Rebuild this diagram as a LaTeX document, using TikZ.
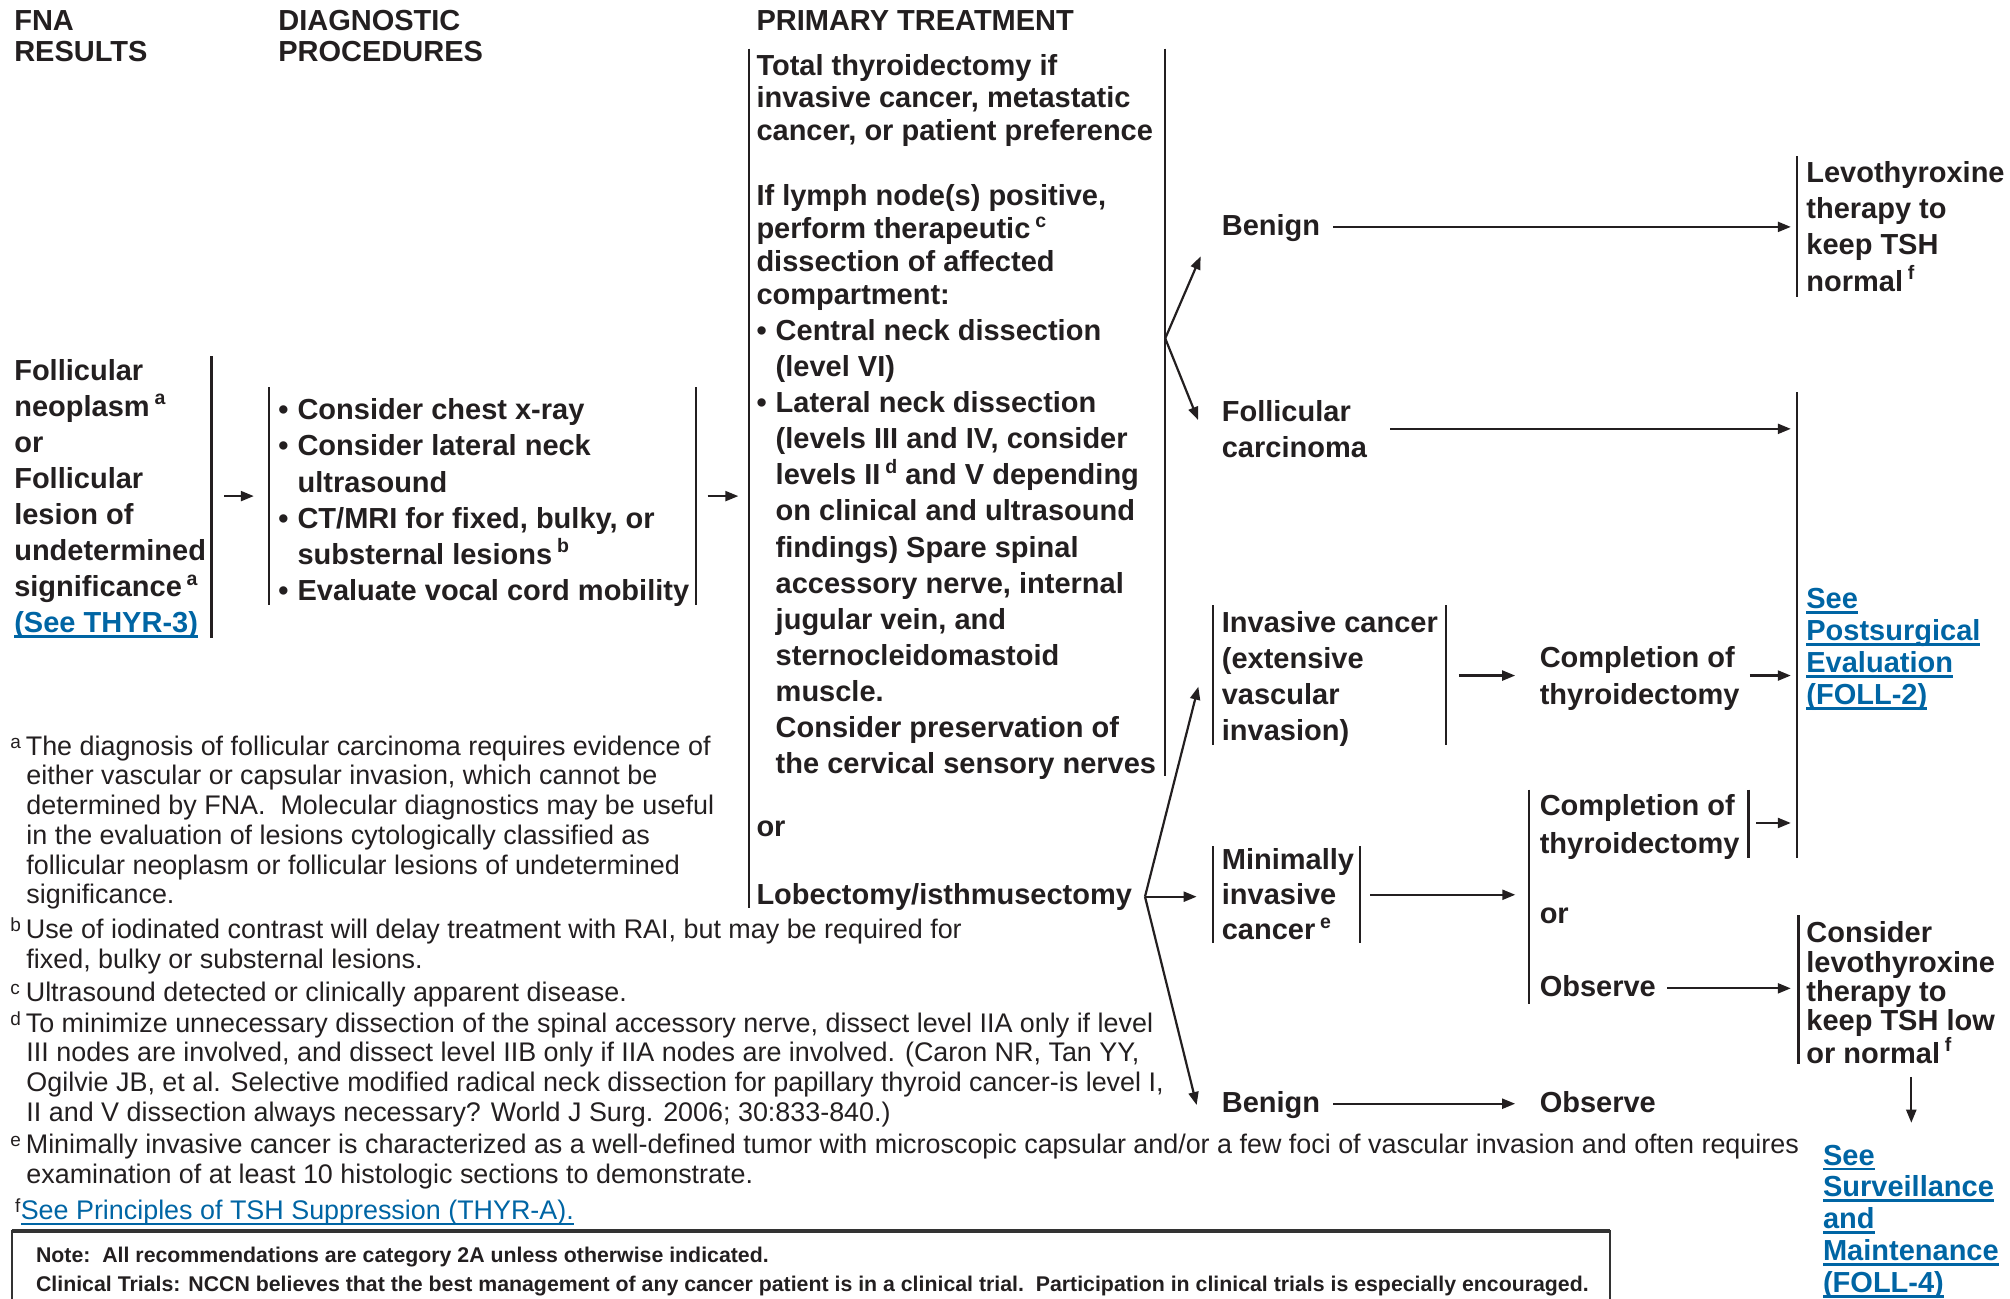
\documentclass[tikz,border=0pt]{standalone}
\usepackage{fontspec}
\setmainfont{Liberation Sans}
\usetikzlibrary{arrows.meta}
\definecolor{ink}{RGB}{35,31,32}
\definecolor{lnk}{RGB}{0,101,164}
\definecolor{boxline}{RGB}{51,51,51}

% superscript footnote marker inside bold body text
\newcommand\sups[1]{\,\raisebox{0.4em}{\fontsize{19.5}{19.5}\selectfont #1}}
% underlined link text (bold body size)
\newcommand\ulink[1]{\setbox0=\hbox{#1}\rlap{\rule[-5.3pt]{\wd0}{2.8pt}}\box0}
% underlined link text (footnote size)
\newcommand\ulinkthin[1]{\setbox0=\hbox{#1}\rlap{\rule[-5.3pt]{\wd0}{1.8pt}}\box0}
% bullets and hanging indent
\newcommand\bul{\makebox[19.2pt][l]{\textbullet}}
\newcommand\ind{\hspace*{19.2pt}}
% footnote markers
\newcommand\fmark[1]{\makebox[15.4pt][l]{\raisebox{7pt}{\fontsize{19}{19}\selectfont #1}}}
\newcommand\fcont{\hspace*{16pt}}

\tikzset{
  txt/.style={inner sep=0pt, anchor=north west, align=left, text=ink,
              font=\bfseries\fontsize{29}{36.1}\selectfont},
  bs/.style={font=\bfseries\fontsize{29}{#1}\selectfont},
  lbl/.style={inner sep=0pt, anchor=west, text=ink, text height=22pt, text depth=5.4pt,
              font=\bfseries\fontsize{29}{36.1}\selectfont},
  fn/.style={inner sep=0pt, anchor=north west, align=left, text=ink,
             font=\fontsize{26.9}{29.7}\selectfont},
  bar/.style={draw=ink, line width=2.2pt},
  arr/.style={draw=ink, line width=2.2pt, -{Triangle[length=13pt,width=10pt]}},
}

\begin{document}
\begin{tikzpicture}[x=1.2819pt, y=-1.2819pt]
\useasboundingbox (0,0) rectangle (1568,1013);

% ---------- column headings ----------
\node[txt, bs=30.8] (hfna)  at (11,8)  {FNA\\RESULTS};
\node[txt, bs=30.8] (hdiag) at (217,8) {DIAGNOSTIC\\PROCEDURES};
\node[txt]          (hprim) at (590,8) {PRIMARY TREATMENT};

% ---------- FNA results ----------
\node[txt] (fna) at (11,280) {Follicular\\neoplasm\sups{a}\\or\\Follicular\\lesion of\\undetermined\\significance\sups{a}\\{\color{lnk}\ulink{(See THYR-3)}}};
\coordinate (fnaT) at (165,278); \coordinate (fnaB) at (165,498);
\draw[bar] (fnaT) -- (fnaB);

% ---------- diagnostic procedures ----------
\node[txt] (diag) at (217,311) {\bul Consider chest x-ray\\\bul Consider lateral neck\\\ind ultrasound\\\bul CT/MRI for fixed, bulky, or\\\ind substernal lesions\sups{b}\\\bul Evaluate vocal cord mobility};
\coordinate (diagLT) at (210,302); \coordinate (diagLB) at (210,472);
\coordinate (diagRT) at (543,302); \coordinate (diagRB) at (543,472);
\draw[bar] (diagLT) -- (diagLB);
\draw[bar] (diagRT) -- (diagRB);

% ---------- primary treatment ----------
\node[txt, bs=32.8] (p1) at (590,42) {Total thyroidectomy if\\invasive cancer, metastatic\\cancer, or patient preference};
\node[txt, bs=32.8] (p2) at (590,144) {If lymph node(s) positive,\\perform therapeutic\sups{c}\\dissection of affected\\compartment:};
\node[txt] (p3) at (590,249) {\bul Central neck dissection\\\ind (level VI)\\\bul Lateral neck dissection\\\ind (levels III and IV, consider\\\ind levels II\sups{d} and V depending\\\ind on clinical and ultrasound\\\ind findings) Spare spinal\\\ind accessory nerve, internal\\\ind jugular vein, and\\\ind sternocleidomastoid\\\ind muscle.\\\ind Consider preservation of\\\ind the cervical sensory nerves};
\node[lbl] (por) at (590,646) {or};
\node[lbl] (lob) at (590,699) {Lobectomy/isthmusectomy};
\coordinate (primLT) at (584,38); \coordinate (primLB) at (584,708);
\coordinate (primRT) at (909,38); \coordinate (primRB) at (909,605);
\draw[bar] (primLT) -- (primLB);
\draw[bar] (primRT) -- (primRB);

% ---------- pathology outcomes ----------
\node[lbl] (ben1) at (953,177) {Benign};
\node[txt] (folc) at (953,312) {Follicular\\carcinoma};
\node[txt] (inv) at (953,477) {Invasive cancer\\(extensive\\vascular\\invasion)};
\node[txt, bs=34.9] (mini) at (953,662) {Minimally\\invasive\\cancer\sups{e}};
\node[lbl] (ben2) at (953,861) {Benign};
\coordinate (invLT) at (946,472); \coordinate (invLB) at (946,581);
\coordinate (invRT) at (1128,472); \coordinate (invRB) at (1128,581);
\coordinate (minLT) at (946,660); \coordinate (minLB) at (946,736);
\coordinate (minRT) at (1061,660); \coordinate (minRB) at (1061,736);
\draw[bar] (invLT) -- (invLB);
\draw[bar] (invRT) -- (invRB);
\draw[bar] (minLT) -- (minLB);
\draw[bar] (minRT) -- (minRB);

% ---------- further surgery ----------
\node[txt, bs=37.2] (comp1) at (1201,504) {Completion of\\thyroidectomy};
\node[txt, bs=37.2] (comp2) at (1201,620) {Completion of\\thyroidectomy};
\node[lbl] (or2)  at (1201,714) {or};
\node[lbl] (obs1) at (1201,771) {Observe};
\node[lbl] (obs2) at (1201,861) {Observe};
\coordinate (compLT) at (1193,616); \coordinate (compLB) at (1193,783);
\coordinate (compRT) at (1364,616); \coordinate (compRB) at (1364,669);
\draw[bar] (compLT) -- (compLB);
\draw[bar] (compRT) -- (compRB);

% ---------- follow-up ----------
\node[txt] (levo) at (1409,126) {Levothyroxine\\therapy to\\keep TSH\\normal\sups{f}};
\node[txt, bs=32, text=lnk] (post) at (1409,459) {\ulink{See}\\\ulink{Postsurgical}\\\ulink{Evaluation}\\\ulink{(FOLL-2)}};
\node[txt, bs=29.3] (cons) at (1409,719) {Consider\\levothyroxine\\therapy to\\keep TSH low\\or normal\sups{f}};
\node[txt, bs=31.8, text=lnk] (surv) at (1422,893) {\ulink{See}\\\ulink{Surveillance}\\\ulink{and}\\\ulink{Maintenance}\\\ulink{(FOLL-4)}};
\coordinate (levoT) at (1402,122); \coordinate (levoB) at (1402,232);
\coordinate (postT) at (1402,306); \coordinate (postB) at (1402,669);
\coordinate (consT) at (1403,714); \coordinate (consB) at (1403,830);
\draw[bar] (levoT) -- (levoB);
\draw[bar] (postT) -- (postB);
\draw[bar] (consT) -- (consB);

% ---------- connectors ----------
\coordinate (rowDx) at (0,387);
\draw[arr, shorten <=12.8pt, shorten >=15.4pt] (fnaT |- rowDx) -- (diagLT |- rowDx);
\draw[arr, shorten <=11.5pt, shorten >=10.3pt] (diagRT |- rowDx) -- (primLT |- rowDx);

\coordinate (fanA) at (909,264);
\coordinate (tipBen) at (936.6,200);
\coordinate (tipFol) at (934.6,327.6);
\draw[arr] (fanA) -- (tipBen);
\draw[arr] (fanA) -- (tipFol);

\coordinate (fanB) at (893.2,699.5);
\coordinate (tipInv) at (934.8,535.7);
\coordinate (tipMin) at (933.5,699.5);
\coordinate (tipBen2) at (933.5,862);
\draw[arr] (fanB) -- (tipInv);
\draw[arr] (fanB) -- (tipMin);
\draw[arr] (fanB) -- (tipBen2);

\draw[arr, shorten <=13pt, shorten >=6.4pt] (ben1.east) -- (ben1.east -| levoT);
\draw[arr, shorten <=23pt, shorten >=6.4pt] (folc.east) -- (folc.east -| postT);

\coordinate (rowInv) at (0,527);
\draw[arr, shorten <=12.8pt, shorten >=24.4pt] (invRT |- rowInv) -- (comp1.west |- rowInv);
\draw[arr, shorten <=10pt, shorten >=6.4pt] (comp1.east |- rowInv) -- (postT |- rowInv);

\coordinate (rowComp) at (0,642);
\draw[arr, shorten <=7.7pt, shorten >=6.4pt] (compRT |- rowComp) -- (postT |- rowComp);

\coordinate (rowMin) at (0,698);
\draw[arr, shorten <=10pt, shorten >=14pt] (minRT |- rowMin) -- (compLT |- rowMin);

\draw[arr, shorten <=11pt, shorten >=7.7pt] (obs1.east) -- (obs1.east -| consT);
\draw[arr, shorten <=13pt, shorten >=24.4pt] (ben2.east) -- (obs2.west);

\coordinate (downTop) at (1491,840);
\draw[arr, shorten >=22pt] (downTop) -- (downTop |- surv.north);

% ---------- footnotes ----------
\node[fn] (fa) at (8,573.8) {\fmark{a}The diagnosis of follicular carcinoma requires evidence of\\\fcont either vascular or capsular invasion, which cannot be\\\fcont determined by FNA.\ \ Molecular diagnostics may be useful\\\fcont in the evaluation of lesions cytologically classified as\\\fcont follicular neoplasm or follicular lesions of undetermined\\\fcont significance.};
\node[fn] (fb) at (8,715.8) {\fmark{b}Use of iodinated contrast will delay treatment with RAI, but may be required for\\\fcont fixed, bulky or substernal lesions.};
\node[fn] (fc) at (8,765.8) {\fmark{c}Ultrasound detected or clinically apparent disease.};
\node[fn] (fd) at (8,788.8) {\fmark{d}To minimize unnecessary dissection of the spinal accessory nerve, dissect level IIA only if level\\\fcont III nodes are involved, and dissect level IIB only if IIA nodes are involved. (Caron NR, Tan YY,\\\fcont Ogilvie JB, et al. Selective modified radical neck dissection for papillary thyroid cancer-is level I,\\\fcont II and V dissection always necessary? World J Surg. 2006; 30:833-840.)};
\node[fn] (fe) at (8,884.8) {\fmark{e}Minimally invasive cancer is characterized as a well-defined tumor with microscopic capsular and/or a few foci of vascular invasion and often requires\\\fcont examination of at least 10 histologic sections to demonstrate.};
\node[fn] (ff) at (8,934.8) {\hspace*{4.7pt}\makebox[5.6pt][l]{\raisebox{7pt}{\fontsize{19}{19}\selectfont f}}{\color{lnk}\ulinkthin{See Principles of TSH Suppression (THYR-A).}}};

% ---------- note box ----------
\coordinate (noteNW) at (9,960); \coordinate (noteSE) at (1256,1030);
\draw[draw=boxline, line width=2pt] (noteNW) rectangle (noteSE);
\draw[draw=boxline, line width=4pt] (noteNW) -- (noteNW -| noteSE);
\node[inner sep=0pt, anchor=north west, align=left, text=ink,
      font=\bfseries\fontsize{21.3}{29}\selectfont] (note) at (28,972.5)
  {Note:\ \ All recommendations are category 2A unless otherwise indicated.\\Clinical Trials: NCCN believes that the best management of any cancer patient is in a clinical trial.\ \ Participation in clinical trials is especially encouraged.};
\end{tikzpicture}
\end{document}
